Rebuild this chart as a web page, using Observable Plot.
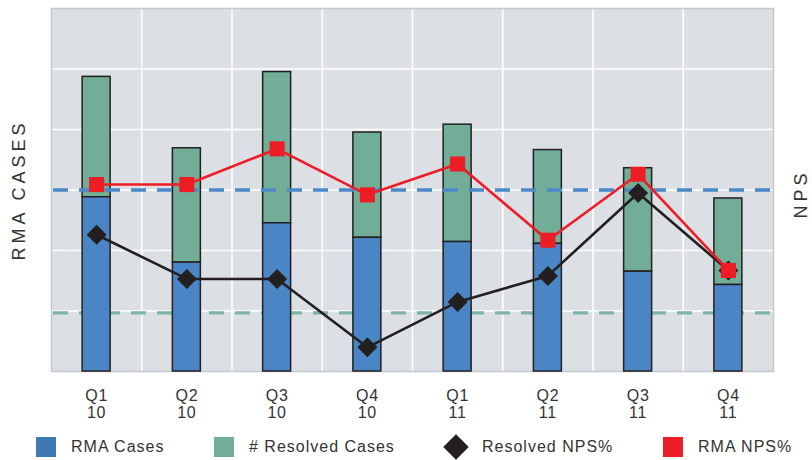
<!DOCTYPE html>
<html>
<head>
<meta charset="utf-8">
<script src="https://cdn.jsdelivr.net/npm/d3@7"></script>
<script src="https://cdn.jsdelivr.net/npm/@observablehq/plot@0.6"></script>
<style>
  html, body { margin: 0; padding: 0; background: #fff; }
  body { width: 812px; height: 460px; overflow: hidden; font-family: "Liberation Sans", Arial, sans-serif; }
  #legend { position: relative; height: 30px; width: 812px; color: #333; font-size: 16px; letter-spacing: 1px; }
  .item { position: absolute; top: 2px; height: 30px; display: flex; align-items: center; }
  .sw { width: 20px; height: 20px; margin-right: 15px; }
  .dia { width: 26px; height: 26px; margin-right: 13px; display: flex; align-items: center; justify-content: center; }
  .dia span { width: 18px; height: 18px; background: #231f20; transform: rotate(45deg); display: block; }
</style>
</head>
<body>
<div id="chart"></div>
<div id="legend"></div>
<script>
// ---- data ----
const quarters = ["Q1", "Q2", "Q3", "Q4", "Q1", "Q2", "Q3", "Q4"];
const years    = ["10", "10", "10", "10", "11", "11", "11", "11"];
const rmaCases      = [288, 180, 245, 221, 214, 211, 165, 143];
const resolvedCases = [199, 189, 250, 174, 194, 155, 171, 143];
const resolvedNps   = [22.6, 15.3, 15.3, 4.0, 11.5, 15.8, 29.5, 16.7];
const rmaNps        = [30.9, 30.9, 36.8, 29.2, 34.3, 21.7, 32.6, 16.7];
const rmaNpsTarget = 30;
const resolvedNpsTarget = 9.7;
const caseTicks = [0, 100, 200, 300, 400, 500, 600];
const legendLabels = ["RMA Cases", "# Resolved Cases", "Resolved NPS%", "RMA NPS%"];

// ---- derived ----
const NPS_TO_CASES = 10; // NPS % axis (0–60) shares the plot height with cases (0–600)
const C = { bg: "#dce0e4", blue: "#4a86c6", green: "#72ad98", red: "#ee1c25", black: "#231f20",
            blueDash: "#4b88c8", greenDash: "#7bb4a1", text: "#333" };
const idx = d3.range(quarters.length);
const rows = idx.map(i => ({
  i, rma: rmaCases[i], total: rmaCases[i] + resolvedCases[i],
  res: resolvedNps[i] * NPS_TO_CASES, rnps: rmaNps[i] * NPS_TO_CASES
}));
const hw = 0.155;

const chart = Plot.plot({
  width: 812,
  height: 430,
  marginLeft: 51,
  marginRight: 39,
  marginTop: 8,
  marginBottom: 59,
  style: { fontFamily: "'Liberation Sans', Arial, sans-serif", background: "transparent" },
  x: { type: "linear", domain: [-0.5, quarters.length - 0.5], axis: null },
  y: { domain: [0, 600], axis: null },
  marks: [
    Plot.frame({ fill: C.bg, stroke: null }),
    Plot.gridY(caseTicks.slice(1, -1), { stroke: "#fff", strokeOpacity: 1, strokeWidth: 1.6 }),
    Plot.gridX(idx.slice(0, -1).map(i => i + 0.5), { stroke: "#fff", strokeOpacity: 1, strokeWidth: 1.6 }),
    Plot.frame({ stroke: "#c3c8cc", strokeWidth: 1.5 }),
    Plot.ruleY([resolvedNpsTarget * NPS_TO_CASES], { stroke: C.greenDash, strokeWidth: 3.2, strokeDasharray: "15,11", strokeDashoffset: -2 }),
    Plot.rectY(rows, { x1: d => d.i - hw, x2: d => d.i + hw, y1: d => d.rma, y2: d => d.total, fill: C.green, stroke: C.black, strokeWidth: 1.5 }),
    Plot.rectY(rows, { x1: d => d.i - hw, x2: d => d.i + hw, y1: 0, y2: d => d.rma, fill: C.blue, stroke: C.black, strokeWidth: 1.5 }),
    Plot.ruleY([rmaNpsTarget * NPS_TO_CASES], { stroke: C.blueDash, strokeWidth: 3.5, strokeDasharray: "15,11", strokeDashoffset: -2 }),
    Plot.line(rows, { x: "i", y: "res", stroke: C.black, strokeWidth: 2.6 }),
    Plot.dot(rows, { x: "i", y: "res", symbol: "diamond2", r: 9, fill: C.black, stroke: null }),
    Plot.line(rows, { x: "i", y: "rnps", stroke: C.red, strokeWidth: 2.6 }),
    Plot.dot(rows, { x: "i", y: "rnps", symbol: "square", r: 8.5, fill: C.red, stroke: null }),
    Plot.axisX(idx, { tickFormat: i => quarters[i] + "\n" + years[i], tickSize: 0, tickPadding: 18, fontSize: 16, lineHeight: 1.05, fill: C.text, label: null }),
    Plot.text(["RMA CASES"], { frameAnchor: "left", textAnchor: "middle", dx: -32.5, dy: 0, rotate: -90, fontSize: 18, fill: C.text }),
    Plot.text(["NPS"], { frameAnchor: "right", textAnchor: "middle", dx: 28, dy: 4, rotate: -90, fontSize: 18, fill: C.text })
  ]
});
const svg = d3.select(chart);
svg.selectAll("text").filter(function () { return this.textContent === "RMA CASES" || this.textContent === "NPS"; })
  .style("letter-spacing", "4px");
svg.selectAll("g[aria-label='x-axis tick label'] text").style("letter-spacing", "0.8px");
document.getElementById("chart").appendChild(chart);

// ---- legend ----
const legend = d3.select("#legend");
const legendDefs = [
  { left: 36, kind: "sw", color: "#3f78b3" },
  { left: 214, kind: "sw", color: C.green },
  { left: 443, kind: "dia" },
  { left: 663, kind: "sw", color: C.red }
];
legendDefs.forEach((d, k) => {
  const it = legend.append("div").attr("class", "item").style("left", d.left + "px");
  if (d.kind === "sw") it.append("div").attr("class", "sw").style("background", d.color);
  else it.append("div").attr("class", "dia").append("span");
  it.append("span").text(legendLabels[k]);
});
</script>
</body>
</html>
